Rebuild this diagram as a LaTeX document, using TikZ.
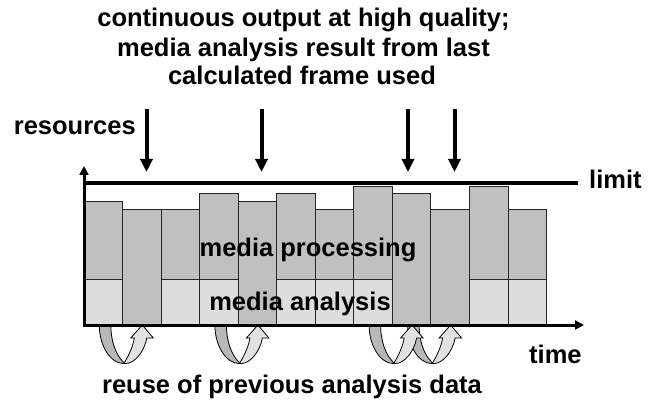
\documentclass[tikz,border=0pt]{standalone}
\usepackage{fontspec}
\setmainfont{Liberation Sans}
\usetikzlibrary{arrows.meta}

\definecolor{procgray}{HTML}{C0C0C0}
\definecolor{anagray}{HTML}{DDDDDD}
\definecolor{backgray}{HTML}{B8B8B8}
\definecolor{frontgray}{HTML}{E2E2E2}

\tikzset{
  lbl/.style={font=\fontsize{25.5}{29}\selectfont\bfseries, inner sep=0pt, anchor=base},
  procbar/.style={fill=procgray, draw=black!85, line width=1pt},
  anabar/.style={fill=anagray, draw=black!85, line width=1pt},
  axisline/.style={line width=3pt, -{Triangle[width=9pt,length=9pt]}},
  hint/.style={line width=4pt, -{Triangle[width=12pt,length=13pt]}},
  % ribbon arrow from one frame down and back up to the next frame
  reusearrow/.pic={
    \draw[fill=backgray, draw=black, line width=0.8pt]
      (-4,0) .. controls (-4,22) and (8,38.5) .. (20,38.5)
      -- (21,38) .. controls (12,30) and (7.5,15) .. (7.5,0) -- cycle;
    \draw[fill=frontgray, draw=black, line width=0.8pt]
      (20.5,38.5) .. controls (26,30) and (30,20) .. (31,13)
      -- (27.5,13) -- (39,0) -- (50,13) -- (43.5,13)
      .. controls (41,27) and (31,38.5) .. (22.5,38.5) -- cycle;
  }
}

\begin{document}
\begin{tikzpicture}[x=1pt,y=-1pt]
\useasboundingbox (0,0) rectangle (654,401);

% resource bars: left edge, top, with/without separate analysis part
\def\bw{38.55}
\foreach \i/\t/\a in {1/201.7/1, 2/210/0, 3/210/1, 4/194/1, 5/201.7/0, 6/194/1,
                      7/210/1, 8/186.7/1, 9/194/0, 10/210/0, 11/186.7/1, 12/210/1}{
  \pgfmathsetmacro{\xl}{84+(\i-1)*\bw}
  \pgfmathsetmacro{\xr}{84+\i*\bw}
  \ifnum\a=1
    \draw[procbar] (\xl,\t) rectangle (\xr,279);
    \draw[anabar] (\xl,279) rectangle (\xr,325);
  \else
    \draw[procbar] (\xl,\t) rectangle (\xr,325);
  \fi
}

% reuse of analysis data between frames (drawn right to left)
\pic at (411.6,325) {reusearrow};
\pic at (373.1,325) {reusearrow};
\pic at (218.9,325) {reusearrow};
\pic at (103.3,325) {reusearrow};

% axes and limit
\coordinate (origin) at (84,325);
\coordinate (ytop) at (84,166);
\coordinate (xend) at (584,325);
\draw[axisline] (84,326.5) -- (ytop);
\draw[axisline] (82.5,325) -- (xend);
\coordinate (limitL) at (84,183);
\coordinate (limitR) at (578,183);
\draw[line width=4.5pt] (limitL) -- (limitR);

% frames with continuous high quality output
\foreach \n/\x in {a/146.5, b/261.5, c/408, d/454.5}{
  \coordinate (hs\n) at (\x,109);
  \coordinate (he\n) at (\x,172);
  \draw[hint] (hs\n) -- (he\n);
}

% labels
\node[lbl] (title1) at (303.5,27) {continuous output at high quality;};
\node[lbl] (title2) at (303.5,56.5) {media analysis result from last};
\node[lbl] (title3) at (302,85) {calculated frame used};
\node[lbl, anchor=base east] (res) at (136,135) {resources};
\node[lbl, anchor=base west] (limit) at (589,188.5) {limit};
\node[lbl, anchor=base west] (time) at (529,363) {time};
\node[lbl] (proc) at (308,257) {media processing};
\node[lbl] (ana) at (300,310) {media analysis};
\node[lbl] (reuse) at (292,393.5) {reuse of previous analysis data};
\end{tikzpicture}
\end{document}
